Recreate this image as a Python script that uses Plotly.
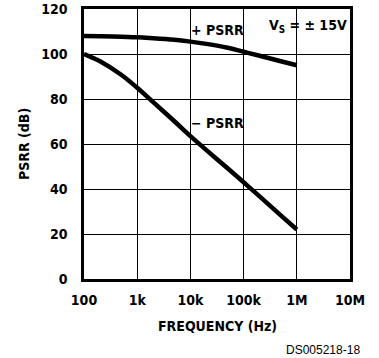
import plotly.graph_objects as go

freq = [100, 200, 500, 1e3, 2e3, 5e3, 1e4, 2e4, 5e4, 1e5, 2e5, 5e5, 1e6]
psrr_pos = [108, 107.9, 107.7, 107.4, 107, 106.3, 105.5, 104.5, 102.8, 101, 99.2, 96.8, 95]
psrr_neg = [100, 96.8, 90.8, 85, 78.6, 70.1, 63.5, 57.3, 49.2, 43, 36.7, 28.3, 22]
x_ticks = [100, 1e3, 1e4, 1e5, 1e6, 1e7]
x_labels = ["100", "1k", "10k", "100k", "1M", "10M"]
y_ticks = [0, 20, 40, 60, 80, 100, 120]

FONT = "DejaVu Sans Condensed, Liberation Sans Narrow, sans-serif"
FS = 14
W = "bold"

fig = go.Figure()
fig.add_trace(go.Scatter(x=freq, y=psrr_pos, mode="lines", line=dict(color="black", width=4.5, shape="spline")))
fig.add_trace(go.Scatter(x=freq, y=psrr_neg, mode="lines", line=dict(color="black", width=4.5, shape="spline")))

fig.update_layout(
    width=379, height=358,
    margin=dict(l=84, r=29, t=9, b=79),
    paper_bgcolor="white", plot_bgcolor="white",
    showlegend=False,
    font=dict(family=FONT, size=FS, color="black"),
)
fig.update_xaxes(type="log", range=[2, 7], tickvals=x_ticks, ticktext=x_labels,
                 showgrid=True, gridcolor="black", gridwidth=1, automargin=False,
                 showline=True, linecolor="black", linewidth=2.5, mirror=True,
                 ticks="", ticklabelstandoff=6, tickfont=dict(size=FS, family=FONT, weight=W), zeroline=False)
fig.update_yaxes(range=[0, 120], tickvals=y_ticks,
                 showgrid=True, gridcolor="black", gridwidth=1, automargin=False,
                 showline=True, linecolor="black", linewidth=2.5, mirror=True,
                 ticks="", ticklabelstandoff=11, tickfont=dict(size=FS, family=FONT, weight=W), zeroline=False)

fig.add_annotation(text="FREQUENCY (Hz)", xref="paper", yref="paper", x=0.5, y=-0.174,
                   yanchor="middle", showarrow=False, font=dict(size=FS, family=FONT, weight=W))
fig.add_annotation(text="PSRR (dB)", xref="paper", yref="paper", x=-0.2256, y=0.5,
                   textangle=-90, xanchor="center", showarrow=False, font=dict(size=FS, family=FONT, weight=W))
fig.add_annotation(text="DS005218-18", xref="paper", yref="paper", x=1.046, y=-0.263,
                   xanchor="right", yanchor="middle", showarrow=False,
                   font=dict(size=12, family="Liberation Sans, Arial, sans-serif"))
fig.add_annotation(text="+ PSRR", x=3.98, y=110.5, xref="x", yref="y", xanchor="left",
                   showarrow=False, font=dict(size=FS, family=FONT, weight=W))
fig.add_annotation(text="V<sub>S</sub> = ± 15V", x=5.44, y=112.3, xref="x", yref="y", xanchor="left",
                   showarrow=False, font=dict(size=FS, family=FONT, weight=W))
fig.add_annotation(text="− PSRR", x=3.98, y=69.3, xref="x", yref="y", xanchor="left",
                   showarrow=False, font=dict(size=FS, family=FONT, weight=W))

fig.write_html("out.html")
